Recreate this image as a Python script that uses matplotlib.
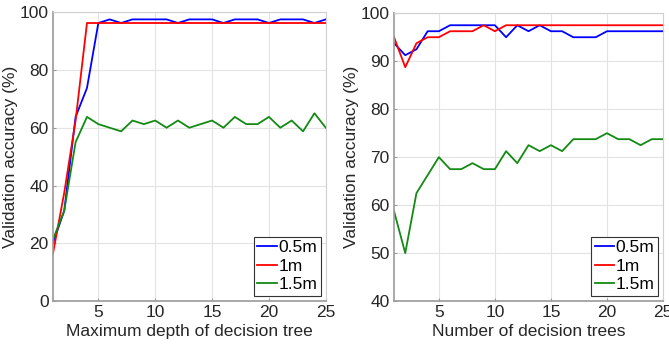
import matplotlib
matplotlib.use("Agg")
from matplotlib import pyplot as plt

plt.rcParams['font.family'] = ['Liberation Sans', 'DejaVu Sans']

# profondeur max de l'arbre (gauche)
profondeur = list(range(1, 26))
prof_05m = [20, 31.25, 63.75, 73.75, 96.25, 97.5, 96.25, 97.5, 97.5, 97.5, 97.5, 96.25, 97.5,
            97.5, 97.5, 96.25, 97.5, 97.5, 97.5, 96.25, 97.5, 97.5, 97.5, 96.25, 97.5]
prof_1m = [16.25, 37.5, 62.5, 96.25, 96.25, 96.25, 96.25, 96.25, 96.25, 96.25, 96.25, 96.25, 96.25,
           96.25, 96.25, 96.25, 96.25, 96.25, 96.25, 96.25, 96.25, 96.25, 96.25, 96.25, 96.25]
prof_15m = [21.25, 31.25, 55, 63.75, 61.25, 60, 58.75, 62.5, 61.25, 62.5, 60, 62.5, 60,
            61.25, 62.5, 60, 63.75, 61.25, 61.25, 63.75, 60, 62.5, 58.75, 65, 60]

# nombre d'arbres (droite)
nb_arbres = list(range(1, 26))
arb_05m = [93.75, 91.25, 92.5, 96.25, 96.25, 97.5, 97.5, 97.5, 97.5, 97.5, 95, 97.5, 96.25,
           97.5, 96.25, 96.25, 95, 95, 95, 96.25, 96.25, 96.25, 96.25, 96.25, 96.25]
arb_1m = [95, 88.75, 93.75, 95, 95, 96.25, 96.25, 96.25, 97.5, 96.25, 97.5, 97.5, 97.5,
          97.5, 97.5, 97.5, 97.5, 97.5, 97.5, 97.5, 97.5, 97.5, 97.5, 97.5, 97.5]
arb_15m = [58.75, 50, 62.5, 66.25, 70, 67.5, 67.5, 68.75, 67.5, 67.5, 71.25, 68.75, 72.5,
           71.25, 72.5, 71.25, 73.75, 73.75, 73.75, 75, 73.75, 73.75, 72.5, 73.75, 73.75]

legende = ["0.5m", "1m", "1.5m"]
couleurs = ["#0000ff", "#ff0000", "#138a13"]

fig = plt.figure(figsize=(6.69, 3.58), dpi=100)
ax1 = fig.add_axes([0.079, 0.159, 0.408, 0.807])
ax2 = fig.add_axes([0.589, 0.159, 0.402, 0.804])


def habiller(ax, xl, yticks, ylim):
    ax.set_xlim(1, 25)
    ax.set_ylim(*ylim)
    ax.set_xticks([5, 10, 15, 20, 25])
    ax.set_yticks(yticks)
    ax.grid(True, color="#e3e3e3", linewidth=0.8)
    ax.set_axisbelow(True)
    for cote in ["left", "bottom"]:
        ax.spines[cote].set_color("#9a9a9a")
        ax.spines[cote].set_linewidth(1.2)
    for cote in ["top", "right"]:
        ax.spines[cote].set_color("#d0d0d0")
        ax.spines[cote].set_linewidth(0.8)
    ax.tick_params(direction="in", length=2, color="#9a9a9a", labelsize=12.5,
                   labelcolor="#262626", pad=3)
    ax.set_xlabel(xl, fontsize=12.5, color="#262626", labelpad=3)
    ax.set_ylabel("Validation accuracy (%)", fontsize=12.5, color="#262626", labelpad=1)
    leg = ax.legend(legende, loc="lower right", fontsize=12.5, handlelength=1.1,
                    handletextpad=0.1, borderpad=0.2, labelspacing=0.2,
                    borderaxespad=0.3, fancybox=False, framealpha=1)
    leg.get_frame().set_edgecolor("#333333")
    leg.get_frame().set_linewidth(0.8)


ax1.plot(profondeur, prof_05m, color=couleurs[0], linewidth=1.3)
ax1.plot(profondeur, prof_1m, color=couleurs[1], linewidth=1.3)
ax1.plot(profondeur, prof_15m, color=couleurs[2], linewidth=1.3)
habiller(ax1, "Maximum depth of decision tree", [0, 20, 40, 60, 80, 100], (0, 100))

ax2.plot(nb_arbres, arb_05m, color=couleurs[0], linewidth=1.3)
ax2.plot(nb_arbres, arb_1m, color=couleurs[1], linewidth=1.3)
ax2.plot(nb_arbres, arb_15m, color=couleurs[2], linewidth=1.3)
habiller(ax2, "Number of decision trees", [40, 50, 60, 70, 80, 90, 100], (40, 100))

fig.savefig("out.png", dpi=100)
